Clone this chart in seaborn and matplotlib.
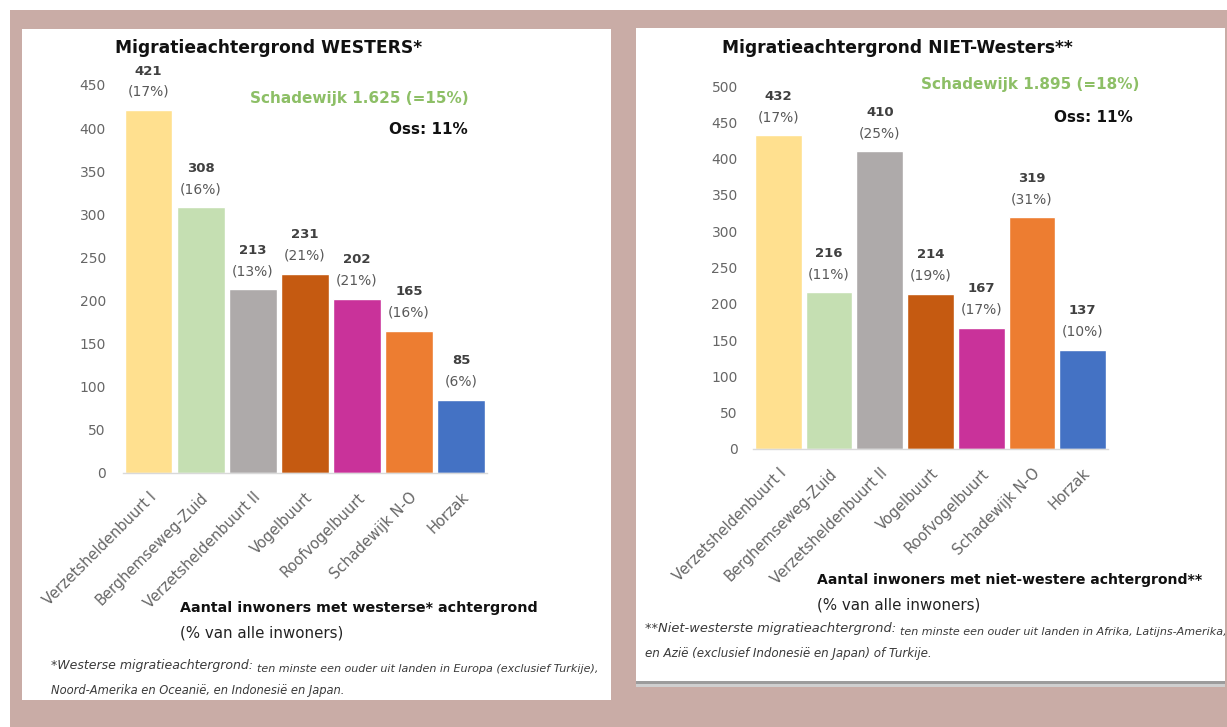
import matplotlib
matplotlib.use("Agg")
import matplotlib.pyplot as plt
from matplotlib.patches import Rectangle
import seaborn as sns
import pandas as pd

# ---- data -------------------------------------------------------------
buurten = ["Verzetsheldenbuurt I", "Berghemseweg-Zuid", "Verzetsheldenbuurt II",
           "Vogelbuurt", "Roofvogelbuurt", "Schadewijk N-O", "Horzak"]
westers_aantal = [421, 308, 213, 231, 202, 165, 85]
westers_pct = [17, 16, 13, 21, 21, 16, 6]
nietwesters_aantal = [432, 216, 410, 214, 167, 319, 137]
nietwesters_pct = [17, 11, 25, 19, 17, 31, 10]
bar_colors = ["#FFE08F", "#C5DFB2", "#AEAAAA", "#C55A11", "#C9329A", "#ED7D31", "#4472C4"]

W, H = 1227, 727
PINK = "#C9ACA6"
GREEN = "#8DBF66"
TICK_GRAY = "#666666"
NOTE_GRAY = "#3A3A3A"

sns.set_theme(style="white")
plt.rcParams["font.family"] = ["DejaVu Sans"]

fig = plt.figure(figsize=(W / 100, H / 100), dpi=100)
fig.patch.set_facecolor("white")


def fx(px):
    return px / W


def fy(py):
    return 1 - py / H


def box(x0, y0, x1, y1, color, z=0):
    fig.add_artist(Rectangle((fx(x0), fy(y1)), fx(x1) - fx(x0), fy(y0) - fy(y1),
                             transform=fig.transFigure, facecolor=color,
                             edgecolor="none", zorder=z))


# backdrop and the two white cards
box(10, 10, 1227, 727, PINK, z=-5)
box(22, 29, 611, 700, "white", z=-4)
box(636, 28, 1225, 681, "white", z=-4)
box(636, 681, 1225, 684, "#9C9C9C", z=-4)
box(636, 684, 1225, 687, "#CFCFCF", z=-4)


def bar_panel(rect, values, pcts, ymax, ypad):
    ax = fig.add_axes(rect)
    df = pd.DataFrame({"buurt": buurten, "aantal": values})
    sns.barplot(data=df, x="buurt", y="aantal", hue="buurt", palette=bar_colors,
                legend=False, width=0.92, saturation=1, ax=ax)
    ax.set_facecolor("none")
    ax.set_xlim(-0.5, len(buurten) - 0.5)
    ax.set_ylim(0, ymax)
    ax.set_yticks(range(0, ymax + 1, 50))
    ax.tick_params(axis="y", length=0, pad=ypad, labelsize=10, labelcolor=TICK_GRAY)
    ax.set_xticks(range(len(buurten)))
    ax.set_xticklabels(buurten, rotation=45, ha="right", va="top",
                       rotation_mode="anchor", fontsize=10.5, color=TICK_GRAY)
    ax.tick_params(axis="x", length=0, pad=12)
    ax.set_xticks([i - 0.5 for i in range(len(buurten) + 1)], minor=True)
    ax.tick_params(axis="x", which="minor", length=4, color="#D9D9D9", width=1)
    for s in ["top", "right", "left"]:
        ax.spines[s].set_visible(False)
    ax.spines["bottom"].set_color("#D9D9D9")
    ax.spines["bottom"].set_linewidth(1)
    ax.set_xlabel("")
    ax.set_ylabel("")
    ax.grid(False)
    for i, (v, p) in enumerate(zip(values, pcts)):
        ax.annotate(f"{v}", (i, v), xytext=(0, 28), textcoords="offset points",
                    ha="center", va="center", fontsize=9.5, fontweight="bold",
                    color="#404040", annotation_clip=False)
        ax.annotate(f"({p}%)", (i, v), xytext=(0, 13), textcoords="offset points",
                    ha="center", va="center", fontsize=10, color="#595959",
                    annotation_clip=False)
    return ax


def footnote(x, y, lead, rest, line2, lead_size, rest_size, line2_size):
    t = fig.text(fx(x), fy(y), lead, fontsize=lead_size, style="italic",
                 color=NOTE_GRAY, va="baseline", ha="left")
    fig.add_artist(plt.Annotation(rest, xy=(1, 0), xycoords=t, va="baseline",
                                  ha="left", fontsize=rest_size, style="italic",
                                  color=NOTE_GRAY))
    fig.text(fx(x), fy(y + 25), line2, fontsize=line2_size, style="italic",
             color=NOTE_GRAY, va="baseline", ha="left")


# ---- left: westerse achtergrond ---------------------------------------
bar_panel([fx(122.5), fy(473), fx(487) - fx(122.5), fy(85) - fy(473)],
          westers_aantal, westers_pct, 450, 12)

fig.text(fx(115), fy(48), "Migratieachtergrond WESTERS*", fontsize=12.3,
         fontweight="bold", color="#111111", va="center", ha="left")
fig.text(fx(469), fy(98), "Schadewijk 1.625 (=15%)", fontsize=11,
         fontweight="bold", color=GREEN, va="center", ha="right")
fig.text(fx(468), fy(130), "Oss: 11%", fontsize=11, fontweight="bold",
         color="#111111", va="center", ha="right")
fig.text(fx(180), fy(608), "Aantal inwoners met westerse* achtergrond",
         fontsize=10.3, fontweight="bold", color="#111111", va="center", ha="left")
fig.text(fx(180), fy(633), "(% van alle inwoners)", fontsize=10.8,
         color="#222222", va="center", ha="left")
footnote(51, 669, "*Westerse migratieachtergrond: ",
         "ten minste een ouder uit landen in Europa (exclusief Turkije),",
         "Noord-Amerika en Oceanië, en Indonesië en Japan.", 9.0, 8.0, 8.3)

# ---- right: niet-westerse achtergrond ---------------------------------
bar_panel([fx(753), fy(449), fx(1108) - fx(753), fy(86) - fy(449)],
          nietwesters_aantal, nietwesters_pct, 500, 11)

fig.text(fx(722), fy(48), "Migratieachtergrond NIET-Westers**", fontsize=12.3,
         fontweight="bold", color="#111111", va="center", ha="left")
fig.text(fx(1139), fy(85), "Schadewijk 1.895 (=18%)", fontsize=11,
         fontweight="bold", color=GREEN, va="center", ha="right")
fig.text(fx(1133), fy(117), "Oss: 11%", fontsize=11, fontweight="bold",
         color="#111111", va="center", ha="right")
fig.text(fx(817), fy(580), "Aantal inwoners met niet-westere achtergrond**",
         fontsize=10.1, fontweight="bold", color="#111111", va="center", ha="left")
fig.text(fx(817), fy(605), "(% van alle inwoners)", fontsize=10.8,
         color="#222222", va="center", ha="left")
footnote(645, 632, "**Niet-westerste migratieachtergrond: ",
         "ten minste een ouder uit landen in Afrika, Latijns-Amerika,",
         "en Azië (exclusief Indonesië en Japan) of Turkije.", 9.4, 8.0, 8.6)

box(1225, 10, 1227, 727, PINK, z=5)

fig.savefig("out.png", dpi=100, facecolor=fig.get_facecolor())
